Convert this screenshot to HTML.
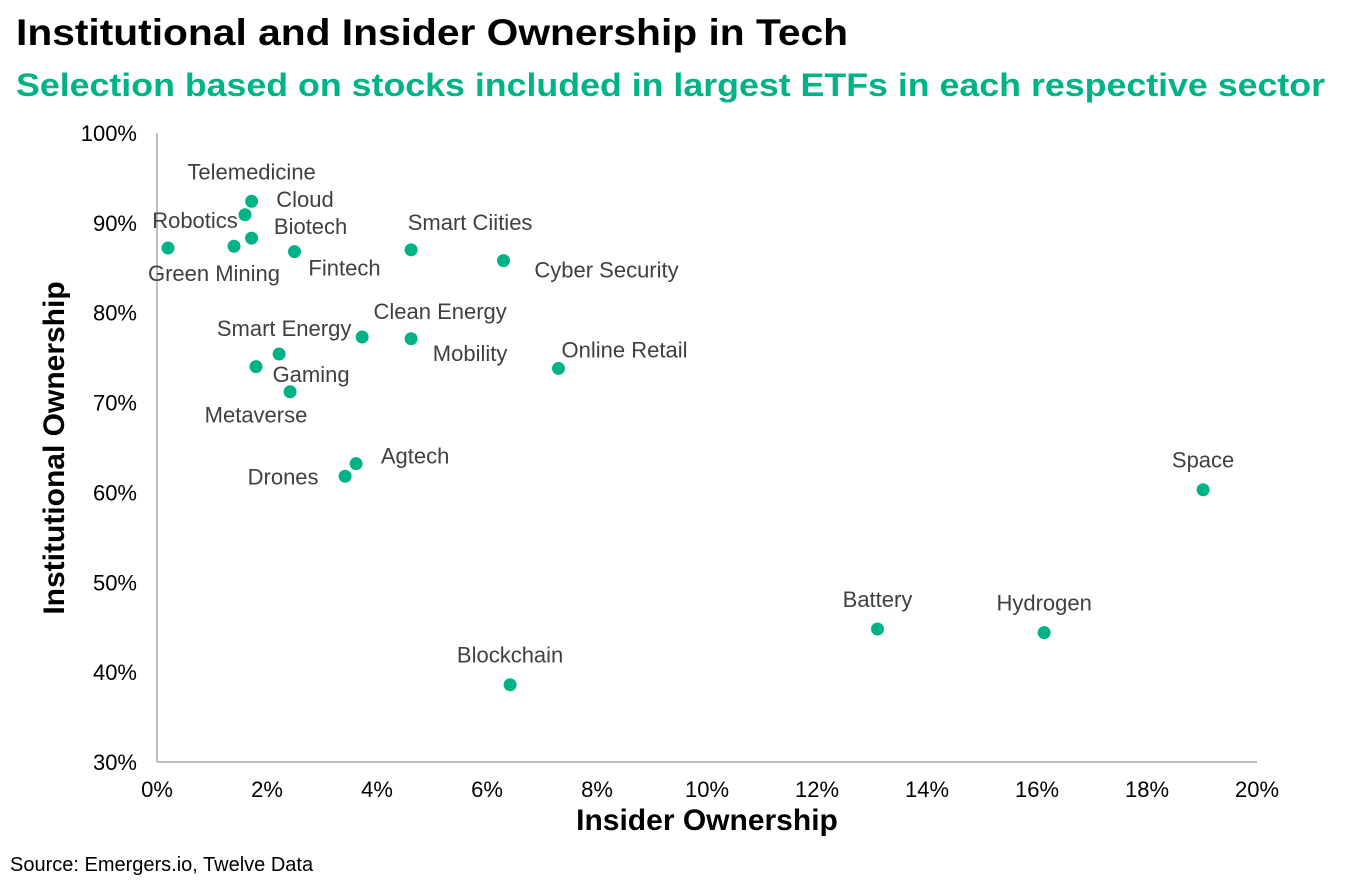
<!DOCTYPE html>
<html><head><meta charset="utf-8"><style>
body{margin:0;background:#fff;width:1366px;height:886px;overflow:hidden}
text{font-family:"Liberation Sans",Arial,sans-serif}
</style></head><body>
<svg id="chart" width="1366" height="886" xmlns="http://www.w3.org/2000/svg">
<text x="16" y="45" font-size="37" font-weight="bold" fill="#000" textLength="832" lengthAdjust="spacingAndGlyphs">Institutional and Insider Ownership in Tech</text>
<text x="16" y="96" font-size="32" font-weight="bold" fill="#00b386" textLength="1309" lengthAdjust="spacingAndGlyphs">Selection based on stocks included in largest ETFs in each respective sector</text>
<g id="axes"></g>
<g id="marks"></g>
<text x="707" y="830" font-size="30" font-weight="bold" text-anchor="middle" fill="#000">Insider Ownership</text>
<text transform="translate(64,448) rotate(-90)" font-size="30" font-weight="bold" text-anchor="middle" fill="#000">Institutional Ownership</text>
<text x="10" y="871" font-size="20" fill="#000">Source: Emergers.io, Twelve Data</text>
</svg>
<script>
const labels=["Telemedicine","Cloud","Robotics","Biotech","Fintech","Green Mining","Smart Ciities","Cyber Security","Clean Energy","Mobility","Smart Energy","Online Retail","Metaverse","Gaming","Agtech","Drones","Space","Battery","Hydrogen","Blockchain"];
const insider=[1.72,1.6,1.4,1.72,2.5,0.2,4.62,6.3,3.73,4.62,2.22,7.3,1.8,2.42,3.62,3.42,19.02,13.1,16.13,6.42];
const institutional=[92.4,90.9,87.4,88.3,86.8,87.2,87.0,85.8,77.3,77.1,75.4,73.8,74.0,71.2,63.2,61.8,60.3,44.8,44.4,38.6];
const xTicks=[0,2,4,6,8,10,12,14,16,18,20];
const yTicks=[30,40,50,60,70,80,90,100];
const labelDx=[0,60,-39,59,50,46,59,103,78,59,5,66,0,21,59,-62,0,0,0,0];
const labelDy=[-30,-16,-26,-12,16,25,-28,9,-26,14,-26,-19,48,-18,-8,0,-30,-30,-30,-30];
const NS="http://www.w3.org/2000/svg";
const X0=157,X1=1257,Y0=762,Y1=133;
const xs=v=>X0+(v-0)/20*(X1-X0);
const ys=v=>Y0-(v-30)/70*(Y0-Y1);
function mk(t,a,p){const e=document.createElementNS(NS,t);for(const k in a)e.setAttribute(k,a[k]);p.appendChild(e);return e;}
const ax=document.getElementById('axes'),mg=document.getElementById('marks');
let l=mk('line',{x1:X0,y1:Y1,x2:X0,y2:Y0,stroke:'#bfbfbf','stroke-width':2},ax);


l=mk('line',{x1:X0,y1:Y0,x2:X1,y2:Y0,stroke:'#bfbfbf','stroke-width':2},ax);


xTicks.forEach(v=>{const t=mk('text',{x:xs(v),y:Y0+35,'font-size':22,'text-anchor':'middle',fill:'#000'},ax);t.textContent=v+'%';

});
yTicks.forEach(v=>{const t=mk('text',{x:X0-20,y:ys(v)+8,'font-size':22,'text-anchor':'end',fill:'#000'},ax);t.textContent=v+'%';

});
labels.forEach((n,i)=>{const cx=xs(insider[i]),cy=ys(institutional[i]);
const c=mk('circle',{cx:cx,cy:cy,r:6.5,fill:'#00b386'},mg);


const t=mk('text',{x:cx+labelDx[i],y:cy+labelDy[i]+8,'font-size':22,'text-anchor':'middle',fill:'#404040'},mg);t.textContent=n;

});
</script>
</body></html>
